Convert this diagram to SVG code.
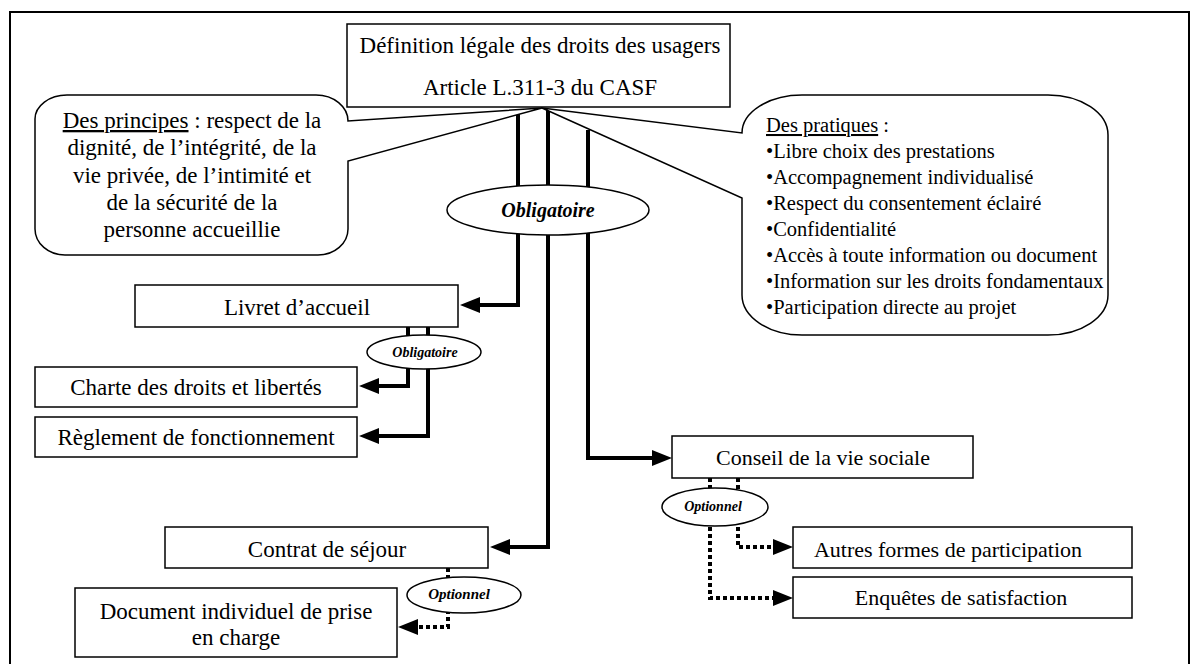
<svg xmlns="http://www.w3.org/2000/svg" width="1199" height="664" viewBox="0 0 1199 664">
<style>
.box{fill:#fff;stroke:#000;stroke-width:1.5}
.t{font-family:"Liberation Serif","Times New Roman",serif;font-size:23px;fill:#000}
.s{font-size:22px}
.r{font-size:20.5px}
.c{text-anchor:middle}
.lab{font-family:"Liberation Serif","Times New Roman",serif;font-weight:bold;font-style:italic;fill:#000;text-anchor:middle}
.solid{fill:none;stroke:#000;stroke-width:4}
.dot{fill:none;stroke:#000;stroke-width:4;stroke-dasharray:4 3}
.u{text-decoration:underline}
</style>
<defs>
<marker id="ah" markerUnits="userSpaceOnUse" markerWidth="20" markerHeight="16" viewBox="0 0 20 16" refX="0" refY="8" orient="auto">
<path d="M0,0 L20,8 L0,16 Z" fill="#000"/>
</marker>
</defs>
<rect x="0" y="0" width="1199" height="664" fill="#fff"/>
<rect id="frame" x="10" y="12" width="1179" height="700" fill="none" stroke="#000" stroke-width="2"/>

<g id="connectors">
<path class="solid" d="M518,112 V305 H480" marker-end="url(#ah)"/>
<path class="solid" d="M548,110 V547 H510" marker-end="url(#ah)"/>
<path class="solid" d="M588,130 V458 H652" marker-end="url(#ah)"/>
<path class="solid" d="M408,327 V386 H379" marker-end="url(#ah)"/>
<path class="solid" d="M428,327 V436 H379" marker-end="url(#ah)"/>
<path class="dot" d="M448,568 V627 H418" marker-end="url(#ah)"/>
<path class="dot" d="M738,478 V547 H773" marker-end="url(#ah)"/>
<path class="dot" d="M710,478 V598 H773" marker-end="url(#ah)"/>
</g>

<g id="callout-principes">
<path class="box" d="M67,95 L316,95 A32 26 0 0 1 348,121 L542,108 L348,161 L348,229 A30 26 0 0 1 318,255 L65,255 A30 26 0 0 1 35,229 L35,119 A32 24 0 0 1 67,95 Z"/>
<text class="t c" x="192" y="128"><tspan class="u">Des principes</tspan> : respect de la</text>
<text class="t c" x="192" y="155">dignité, de l’intégrité, de la</text>
<text class="t c" x="192" y="183">vie privée, de l’intimité et</text>
<text class="t c" x="192" y="210">de la sécurité de la</text>
<text class="t c" x="192" y="237">personne accueillie</text>
</g>

<g id="callout-pratiques">
<path class="box" d="M802,95 L1048,95 A60 40 0 0 1 1108,135 L1108,295 A60 40 0 0 1 1048,335 L802,335 A60 40 0 0 1 742,295 L742,198 L542,108 L742,133 A60 38 0 0 1 802,95 Z"/>
<text class="t r" x="766" y="132"><tspan class="u">Des pratiques</tspan> :</text>
<text class="t r" x="766" y="158">•Libre choix des prestations</text>
<text class="t r" x="766" y="184">•Accompagnement individualisé</text>
<text class="t r" x="766" y="210">•Respect du consentement éclairé</text>
<text class="t r" x="766" y="236">•Confidentialité</text>
<text class="t r" x="766" y="262">•Accès à toute information ou document</text>
<text class="t r" x="766" y="288">•Information sur les droits fondamentaux</text>
<text class="t r" x="766" y="314">•Participation directe au projet</text>
</g>

<g id="definition">
<rect class="box" x="347" y="24" width="383" height="83"/>
<text class="t c" x="540" y="53">Définition légale des droits des usagers</text>
<text class="t c" x="540" y="95">Article L.311-3 du CASF</text>
</g>

<g id="obligatoire-main">
<ellipse class="box" cx="548" cy="210" rx="101" ry="25"/>
<text class="lab" x="548" y="217" font-size="20">Obligatoire</text>
</g>

<g id="livret">
<rect class="box" x="135" y="285" width="323" height="42"/>
<text class="t c" x="297" y="315">Livret d’accueil</text>
</g>

<g id="obligatoire-livret">
<ellipse class="box" cx="424" cy="352" rx="57" ry="17"/>
<text class="lab" x="425" y="357" font-size="14">Obligatoire</text>
</g>

<g id="charte">
<rect class="box" x="35" y="367" width="322" height="40"/>
<text class="t c" x="196" y="395">Charte des droits et libertés</text>
</g>

<g id="reglement">
<rect class="box" x="35" y="417" width="322" height="40"/>
<text class="t c" x="196" y="445">Règlement de fonctionnement</text>
</g>

<g id="contrat">
<rect class="box" x="165" y="527" width="323" height="41"/>
<text class="t c" x="327" y="557">Contrat de séjour</text>
</g>

<g id="optionnel-contrat">
<ellipse class="box" cx="464" cy="595" rx="57" ry="18"/>
<text class="lab" x="459" y="599" font-size="15">Optionnel</text>
</g>

<g id="document">
<rect class="box" x="75" y="588" width="322" height="69"/>
<text class="t c" x="236" y="619">Document individuel de prise</text>
<text class="t c" x="236" y="645">en charge</text>
</g>

<g id="conseil">
<rect class="box" x="672" y="436" width="301" height="42"/>
<text class="t s c" x="823" y="465">Conseil de la vie sociale</text>
</g>

<g id="optionnel-conseil">
<ellipse class="box" cx="715" cy="507" rx="53" ry="19"/>
<text class="lab" x="713" y="511" font-size="14">Optionnel</text>
</g>

<g id="autres">
<rect class="box" x="793" y="527" width="339" height="41"/>
<text class="t s c" x="948" y="557">Autres formes de participation</text>
</g>

<g id="enquetes">
<rect class="box" x="793" y="577" width="339" height="41"/>
<text class="t s c" x="961" y="605">Enquêtes de satisfaction</text>
</g>
</svg>
